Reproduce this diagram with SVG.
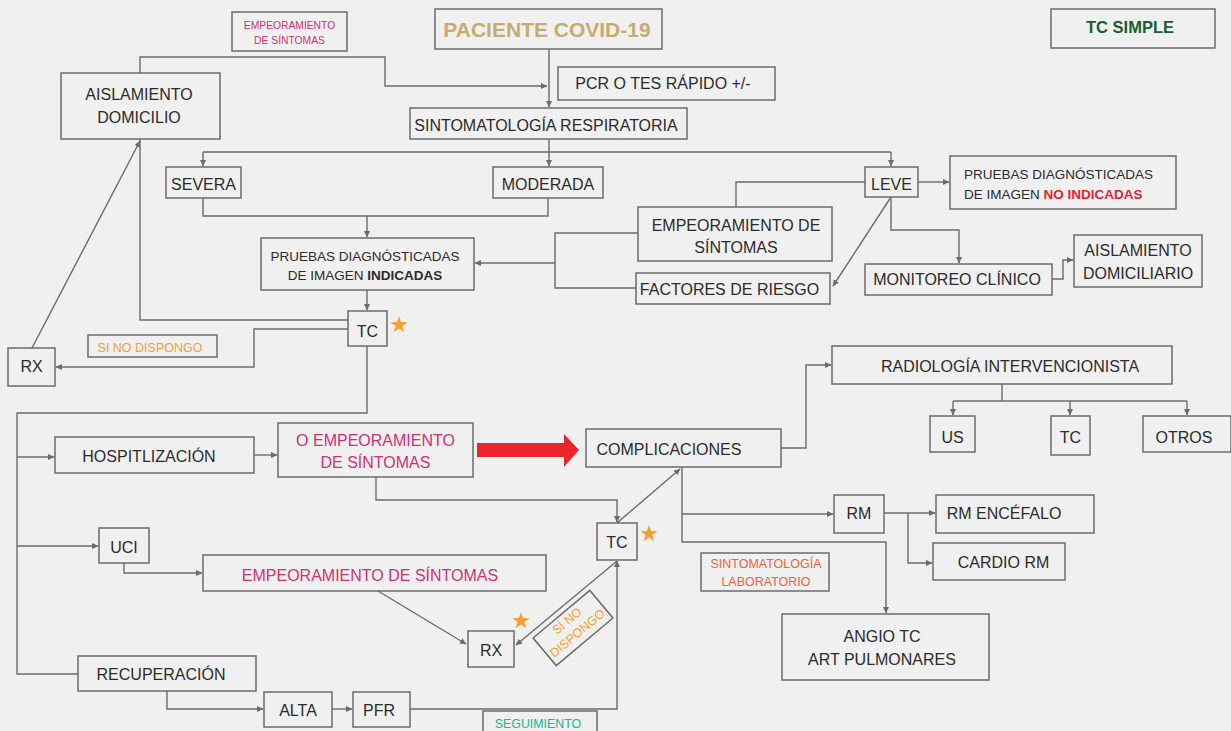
<svg xmlns="http://www.w3.org/2000/svg" width="1231" height="731" viewBox="0 0 1231 731">
<style>
.bx{fill:none;stroke:#6b6b6b;stroke-width:1.5}
.t{font-family:"Liberation Sans",Arial,sans-serif;font-size:16px;fill:#2b2b2b;text-anchor:middle}
.s{font-size:13.5px}
.pk{fill:#d0306f}
.or{fill:#f6a033}
.c{fill:none;stroke:#6b6b6b;stroke-width:1.4}
.st{fill:#f6a033}
</style>
<defs>
<marker id="ah" markerWidth="7" markerHeight="7" refX="6" refY="3.5" orient="auto" markerUnits="userSpaceOnUse">
<path d="M0,0.5 L6.5,3.5 L0,6.5 z" fill="#6b6b6b"/>
</marker>
<polygon id="star" points="0,-9 2.1,-2.9 8.6,-2.8 3.4,1.1 5.3,7.3 0,3.6 -5.3,7.3 -3.4,1.1 -8.6,-2.8 -2.1,-2.9"/>
</defs>
<rect width="1231" height="731" fill="#f0f0f0"/>

<g id="connectors">
<path class="c" d="M140,73 V57 H385 V86 H547" marker-end="url(#ah)"/>
<path class="c" d="M549,49 V107" marker-end="url(#ah)"/>
<path class="c" d="M549,139 V166" marker-end="url(#ah)"/>
<path class="c" d="M203,152 H891"/>
<path class="c" d="M203,152 V166" marker-end="url(#ah)"/>
<path class="c" d="M891,152 V166" marker-end="url(#ah)"/>
<path class="c" d="M203,198 V216 H548 V198"/>
<path class="c" d="M367,216 V237" marker-end="url(#ah)"/>
<path class="c" d="M367,290 V310" marker-end="url(#ah)"/>
<path class="c" d="M348,320 H140 V139"/>
<path class="c" d="M32,348 L140,141" marker-end="url(#ah)"/>
<path class="c" d="M348,329 H254 V367 H56" marker-end="url(#ah)"/>
<path class="c" d="M367,346 V413 H17 V674 H78"/>
<path class="c" d="M17,457 H54" marker-end="url(#ah)"/>
<path class="c" d="M17,546 H98" marker-end="url(#ah)"/>
<path class="c" d="M254,455 H277" marker-end="url(#ah)"/>
<path class="c" d="M376,477 V500 H617 V522" marker-end="url(#ah)"/>
<path class="c" d="M124,563 V573 H202" marker-end="url(#ah)"/>
<path class="c" d="M378,591 L466,644" marker-end="url(#ah)"/>
<path class="c" d="M617,561 L516,645" marker-end="url(#ah)"/>
<path class="c" d="M410,709 H617 V561" marker-end="url(#ah)"/>
<path class="c" d="M617,523 L680,469" marker-end="url(#ah)"/>
<path class="c" d="M682,467 V542 H886 V613" marker-end="url(#ah)"/>
<path class="c" d="M682,514 H833" marker-end="url(#ah)"/>
<path class="c" d="M781,448 H806 V365 H831" marker-end="url(#ah)"/>
<path class="c" d="M1002,384 V401"/>
<path class="c" d="M953,401 H1187"/>
<path class="c" d="M953,401 V415" marker-end="url(#ah)"/>
<path class="c" d="M1070,401 V415" marker-end="url(#ah)"/>
<path class="c" d="M1187,401 V415" marker-end="url(#ah)"/>
<path class="c" d="M884,513 H935" marker-end="url(#ah)"/>
<path class="c" d="M908,513 V563 H932" marker-end="url(#ah)"/>
<path class="c" d="M918,182 H949" marker-end="url(#ah)"/>
<path class="c" d="M865,182 H736 V207"/>
<path class="c" d="M891,197 L833,286" marker-end="url(#ah)"/>
<path class="c" d="M891,197 V230 H959 V263" marker-end="url(#ah)"/>
<path class="c" d="M1052,279 H1063 V260 H1073" marker-end="url(#ah)"/>
<path class="c" d="M638,233 H555 V288 H636"/>
<path class="c" d="M555,263 H475" marker-end="url(#ah)"/>
<path class="c" d="M167,691 V709 H263" marker-end="url(#ah)"/>
<path class="c" d="M332,709 H352" marker-end="url(#ah)"/>
<polygon points="477,443 564,443 564,434 579,450 564,467 564,457 477,457" fill="#e8262b"/>
</g>

<g id="n-emp-top"><rect class="bx" x="232" y="12" width="115" height="39"/>
<text class="t pk" style="font-size:10.3px" x="289.5" y="29">EMPEORAMIENTO</text>
<text class="t pk" style="font-size:10.3px" x="289.5" y="44">DE SÍNTOMAS</text></g>

<g id="n-paciente"><rect class="bx" x="435" y="9" width="227" height="40"/>
<text class="t" style="font-size:21px;font-weight:bold;fill:#c8aa72" x="547" y="37">PACIENTE COVID-19</text></g>

<g id="n-tcsimple"><rect class="bx" x="1051" y="9" width="164" height="39"/>
<text class="t" style="font-size:16.5px;font-weight:bold;fill:#1a5c33" x="1130" y="33">TC SIMPLE</text></g>

<g id="n-pcr"><rect class="bx" x="558" y="67" width="217" height="33"/>
<text class="t" x="663" y="89">PCR O TES RÁPIDO +/-</text></g>

<g id="n-sint"><rect class="bx" x="410" y="108" width="277" height="31"/>
<text class="t" x="546" y="131">SINTOMATOLOGÍA RESPIRATORIA</text></g>

<g id="n-aisl"><rect class="bx" x="61" y="73" width="159" height="66"/>
<text class="t" x="139" y="100">AISLAMIENTO</text>
<text class="t" x="139" y="123">DOMICILIO</text></g>

<g id="n-severa"><rect class="bx" x="166" y="167" width="75" height="31"/>
<text class="t" x="203.5" y="190">SEVERA</text></g>

<g id="n-moderada"><rect class="bx" x="493" y="167" width="110" height="31"/>
<text class="t" x="548" y="190">MODERADA</text></g>

<g id="n-leve"><rect class="bx" x="865" y="167" width="53" height="30"/>
<text class="t" x="891.5" y="190">LEVE</text></g>

<g id="n-noind"><rect class="bx" x="950" y="156" width="226" height="53"/>
<text class="t s" style="text-anchor:start" x="964" y="179">PRUEBAS DIAGNÓSTICADAS</text>
<text class="t s" style="text-anchor:start" x="964" y="199">DE IMAGEN <tspan style="font-weight:bold;fill:#e8202f">NO INDICADAS</tspan></text></g>

<g id="n-emp-mid"><rect class="bx" x="638" y="207" width="194" height="54"/>
<text class="t" x="736" y="231">EMPEORAMIENTO DE</text>
<text class="t" x="736" y="253">SÍNTOMAS</text></g>

<g id="n-factores"><rect class="bx" x="636" y="273" width="194" height="31"/>
<text class="t" x="729.5" y="295">FACTORES DE RIESGO</text></g>

<g id="n-ind"><rect class="bx" x="261" y="238" width="213" height="52"/>
<text class="t s" x="365" y="261">PRUEBAS DIAGNÓSTICADAS</text>
<text class="t s" x="365" y="280">DE IMAGEN <tspan style="font-weight:bold">INDICADAS</tspan></text></g>

<g id="n-monitoreo"><rect class="bx" x="865" y="264" width="187" height="31"/>
<text class="t" x="957" y="285">MONITOREO CLÍNICO</text></g>

<g id="n-aisldom"><rect class="bx" x="1074" y="235" width="128" height="52"/>
<text class="t" x="1138" y="256">AISLAMIENTO</text>
<text class="t" x="1138" y="279">DOMICILIARIO</text></g>

<g id="n-tc1"><rect class="bx" x="348" y="311" width="39" height="35"/>
<text class="t" x="367.5" y="337">TC</text>
<use href="#star" class="st" x="399" y="325"/></g>

<g id="n-rx1"><rect class="bx" x="8" y="348" width="47" height="38"/>
<text class="t" x="31.5" y="372">RX</text></g>

<g id="n-sinodisp"><rect class="bx" x="88" y="335" width="129" height="22"/>
<text class="t or" style="font-size:12.5px" x="150" y="352">SI NO DISPONGO</text></g>

<g id="n-hosp"><rect class="bx" x="55" y="437" width="199" height="36"/>
<text class="t" x="149" y="462">HOSPITLIZACIÓN</text></g>

<g id="n-oemp"><rect class="bx" x="278" y="423" width="195" height="54"/>
<text class="t pk" x="375.5" y="446">O EMPEORAMIENTO</text>
<text class="t pk" x="375.5" y="468">DE SÍNTOMAS</text></g>

<g id="n-compl"><rect class="bx" x="586" y="429" width="195" height="38"/>
<text class="t" x="669" y="455">COMPLICACIONES</text></g>

<g id="n-radio"><rect class="bx" x="832" y="346" width="340" height="38"/>
<text class="t" x="1010" y="372">RADIOLOGÍA INTERVENCIONISTA</text></g>

<g id="n-us"><rect class="bx" x="930" y="416" width="45" height="36"/>
<text class="t" x="952.5" y="443">US</text></g>

<g id="n-tc3"><rect class="bx" x="1051" y="416" width="39" height="39"/>
<text class="t" x="1070.5" y="443">TC</text></g>

<g id="n-otros"><rect class="bx" x="1143" y="416" width="88" height="36"/>
<text class="t" x="1184" y="443">OTROS</text></g>

<g id="n-rm"><rect class="bx" x="834" y="495" width="50" height="38"/>
<text class="t" x="859" y="519">RM</text></g>

<g id="n-rmenc"><rect class="bx" x="936" y="495" width="158" height="38"/>
<text class="t" x="1004" y="519">RM ENCÉFALO</text></g>

<g id="n-cardio"><rect class="bx" x="933" y="543" width="132" height="37"/>
<text class="t" x="1003.5" y="568">CARDIO RM</text></g>

<g id="n-angio"><rect class="bx" x="782" y="614" width="207" height="66"/>
<text class="t" x="882" y="642">ANGIO TC</text>
<text class="t" x="882" y="665">ART PULMONARES</text></g>

<g id="n-sintlab"><rect class="bx" x="701" y="553" width="128" height="38"/>
<text class="t" style="font-size:12.5px;fill:#f2603c" x="766" y="568">SINTOMATOLOGÍA</text>
<text class="t" style="font-size:12.5px;fill:#f2603c" x="766" y="586">LABORATORIO</text></g>

<g id="n-tc2"><rect class="bx" x="597" y="523" width="40" height="37"/>
<text class="t" x="617" y="548">TC</text>
<use href="#star" class="st" x="649" y="534"/></g>

<g id="n-uci"><rect class="bx" x="99" y="528" width="50" height="35"/>
<text class="t" x="124" y="553">UCI</text></g>

<g id="n-emp-long"><rect class="bx" x="203" y="555" width="343" height="36"/>
<text class="t pk" x="370" y="581">EMPEORAMIENTO DE SÍNTOMAS</text></g>

<g id="n-rx2"><rect class="bx" x="468" y="631" width="46" height="36"/>
<text class="t" x="491" y="656">RX</text>
<use href="#star" class="st" x="521" y="621"/></g>

<g id="n-sinodisp2" transform="translate(573,628) rotate(-40)">
<rect class="bx" x="-37" y="-18" width="74" height="36"/>
<text class="t or" style="font-size:12.5px" x="0" y="-5">SÍ NO</text>
<text class="t or" style="font-size:12.5px" x="0" y="11">DISPONGO</text></g>

<g id="n-recup"><rect class="bx" x="78" y="656" width="178" height="35"/>
<text class="t" x="161" y="680">RECUPERACIÓN</text></g>

<g id="n-alta"><rect class="bx" x="264" y="692" width="68" height="35"/>
<text class="t" x="298" y="716">ALTA</text></g>

<g id="n-pfr"><rect class="bx" x="353" y="692" width="57" height="35"/>
<text class="t" x="379" y="716">PFR</text></g>

<g id="n-seguim"><rect class="bx" x="483" y="711" width="114" height="24"/>
<text class="t" style="font-size:12.4px;fill:#22b38f" x="538" y="728">SEGUIMIENTO</text></g>
</svg>
